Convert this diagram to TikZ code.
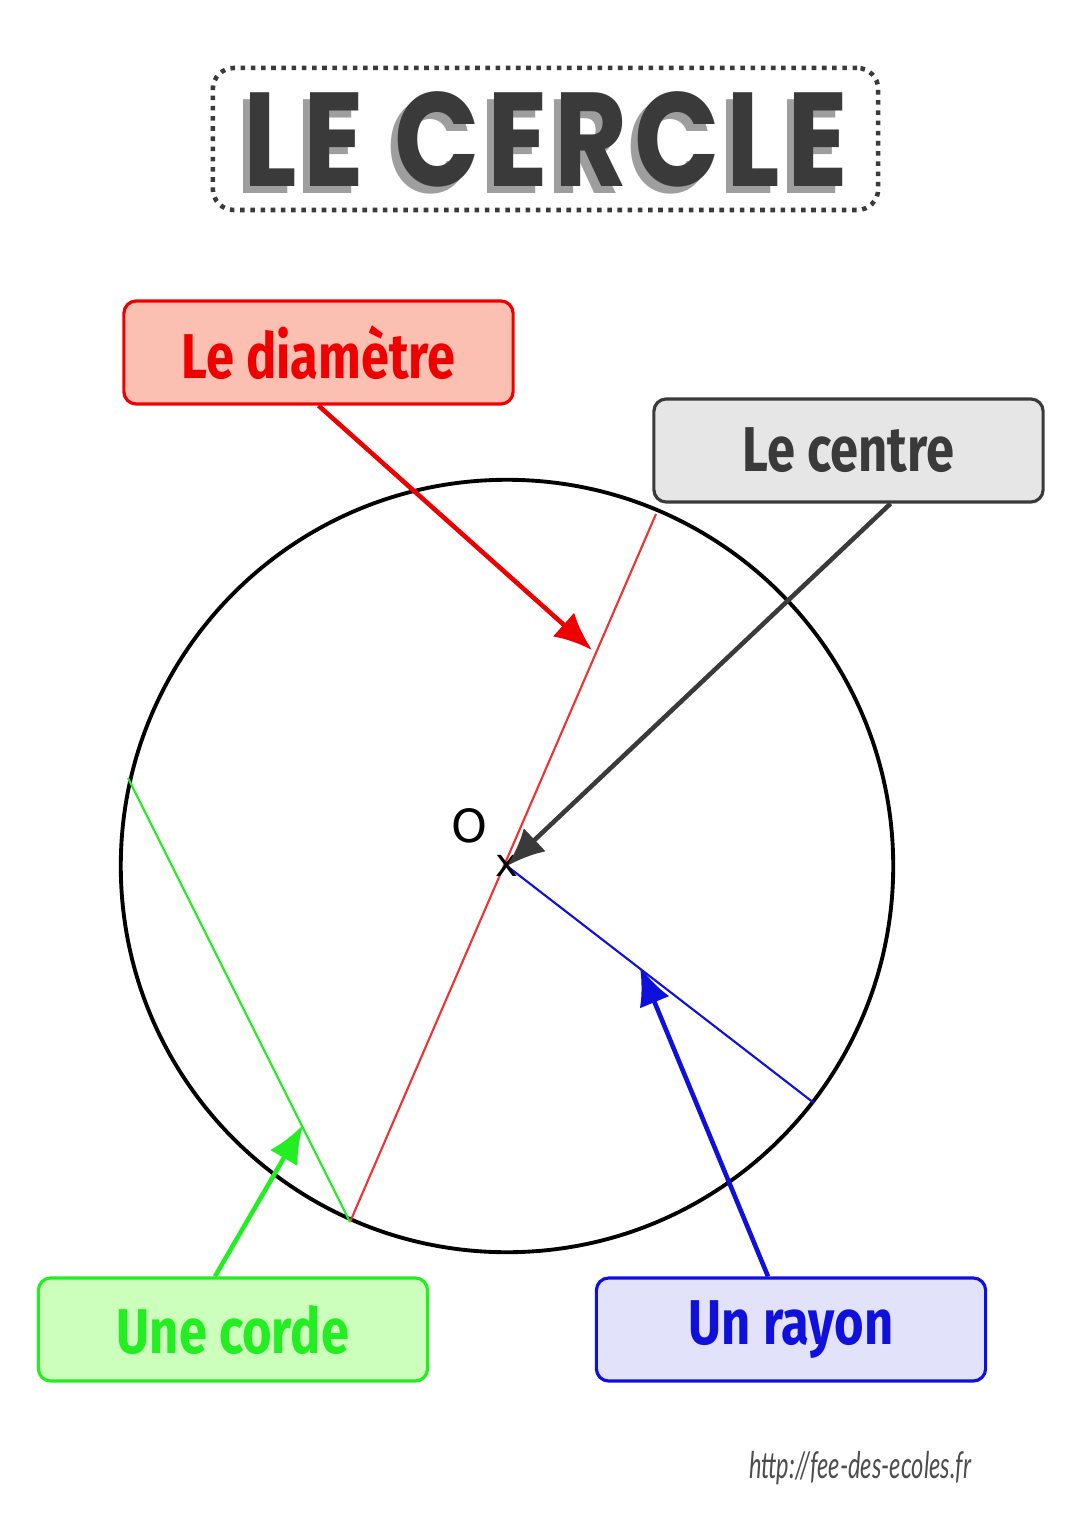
\documentclass[tikz,border=0pt]{standalone}
\usepackage{fontspec}
\usetikzlibrary{arrows.meta,calc}
\newfontfamily\titlefont{Poppins}[LetterSpace=6]
\newfontfamily\boxfont{Fira Sans}
\newfontfamily\plainfont{DejaVu Sans}
\newfontfamily\urlfont{Lato}

\definecolor{diamred}{HTML}{EE0000}
\definecolor{diamfill}{HTML}{FBC0B2}
\definecolor{centgray}{HTML}{3A3A3A}
\definecolor{centfill}{HTML}{E6E6E6}
\definecolor{cordegreen}{HTML}{22EE22}
\definecolor{cordefill}{HTML}{CCFFBB}
\definecolor{rayblue}{HTML}{1010DD}
\definecolor{rayfill}{HTML}{E2E2FA}
\definecolor{linered}{HTML}{EE3333}

\begin{document}
\begin{tikzpicture}[x=0.01cm,y=-0.01cm,
    labelbox/.style={rectangle,
          draw,
          line width=0.9pt,
          rounded corners=3.5pt,
          minimum width = 3.89cm,
          minimum height = 1.03cm},
    labeltext/.style={font=\boxfont\bfseries\fontsize{18}{20}\selectfont},
    pointer/.style={line width=1.3pt,-{Latex[length=3.8mm,width=3.2mm]}}]

    \useasboundingbox (0,0) rectangle (1080,1528);

    % title
    \node[rectangle,
          draw = centgray,
          line width = 1.3pt,
          dash pattern = on 1.3pt off 1.6pt,
          rounded corners = 6pt,
          minimum width = 6.65cm,
          minimum height = 1.42cm
          ] (title) at (545.5,139) {};
    \node[text = black!38,
          font = \titlefont\bfseries\fontsize{38}{40}\selectfont
          ] at ([xshift=-0.07cm,yshift=-0.07cm]title.center) {\scalebox{0.84}[1]{LE CERCLE}};
    \node[text = centgray,
          font = \titlefont\bfseries\fontsize{38}{40}\selectfont
          ] at (title.center) {\scalebox{0.84}[1]{LE CERCLE}};

    % the circle
    \coordinate (O) at (507,866);
    \draw[line width=1.1pt] (O) circle (3.86cm);

    \coordinate (diamA) at (656,514);
    \coordinate (diamB) at (350,1222);
    \coordinate (cordeA) at (128,778);
    \coordinate (rayB) at (814,1103);

    \draw[linered, line width=0.6pt] (diamA) -- (diamB);
    \draw[cordegreen, line width=0.6pt] (cordeA) -- (diamB);
    \draw[rayblue, line width=0.6pt] (O) -- (rayB);

    \node[font=\plainfont\fontsize{13}{14}\selectfont] (olabel) at (469,826) {O};
    \node[font=\plainfont\fontsize{11}{12}\selectfont] (xmark) at (O) {x};

    % the label boxes
    \node[labelbox,
          draw = diamred,
          fill = diamfill
          ] (diam) at (318.5,352.5) {};
    \node[labeltext, text = diamred] at (diam.center) {\scalebox{0.8}[1]{Le diamètre}};

    \node[labelbox,
          draw = centgray,
          fill = centfill
          ] (centre) at (848.5,450.5) {};
    \node[labeltext, text = centgray] at (centre.center) {\scalebox{0.8}[1]{Le centre}};

    \node[labelbox,
          draw = cordegreen,
          fill = cordefill
          ] (corde) at (233,1329.5) {};
    \node[labeltext, text = cordegreen] at (corde.center) {\scalebox{0.8}[1]{Une corde}};

    \node[labelbox,
          draw = rayblue,
          fill = rayfill
          ] (rayon) at (791,1329.5) {};
    \node[labeltext, text = rayblue] at (rayon.center) {\scalebox{0.8}[1]{Un rayon}};

    % pointers
    \coordinate (diamtip) at (592,650);
    \coordinate (cordetip) at (303,1125);
    \coordinate (raytip) at (640,967);

    \draw[pointer, diamred] (diam.south) -- (diamtip);
    \draw[pointer, centgray] ([xshift=0.42cm]centre.south) -- (O);
    \draw[pointer, cordegreen] ([xshift=-0.18cm]corde.north) -- (cordetip);
    \draw[pointer, rayblue] ([xshift=-0.23cm]rayon.north) -- (raytip);

    \node[text=black!70,
          font=\urlfont\itshape\fontsize{10.5}{12}\selectfont
          ] (url) at (860,1468) {\scalebox{0.64}[1]{http://fee-des-ecoles.fr}};

\end{tikzpicture}
\end{document}
